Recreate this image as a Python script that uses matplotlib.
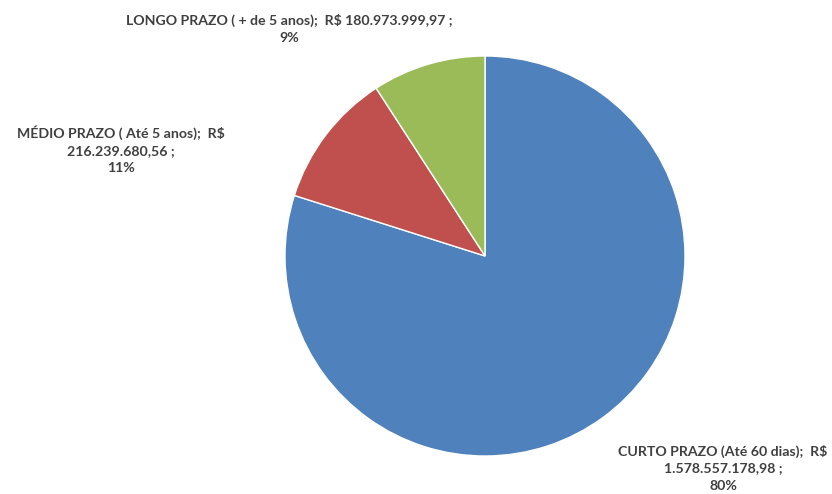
import matplotlib
matplotlib.use("Agg")
import matplotlib.pyplot as plt

categories = ["CURTO PRAZO (Até 60 dias)", "MÉDIO PRAZO ( Até 5 anos)", "LONGO PRAZO ( + de 5 anos)"]
values = [1578557178.98, 216239680.56, 180973999.97]
colors = ["#4F81BD", "#C0504D", "#9BBB59"]

def brl(v):
    s = f"{v:,.2f}"
    return s.replace(",", "X").replace(".", ",").replace("X", ".")

total = sum(values)
pcts = [round(v / total * 100) for v in values]

W, H = 832, 494
fig = plt.figure(figsize=(W / 100, H / 100), dpi=100)
cx, cy, r = 485, 256, 200
ax = fig.add_axes([(cx - r) / W, 1 - (cy + r) / H, 2 * r / W, 2 * r / H])
ax.pie(values, colors=colors, startangle=90, counterclock=False, radius=1,
       wedgeprops=dict(edgecolor="white", linewidth=1))
ax.set_xlim(-1, 1)
ax.set_ylim(-1, 1)
ax.set_aspect("auto")
ax.axis("off")

labels = [
    f"{categories[0]};  R$\n{brl(values[0])} ;\n{pcts[0]}%",
    f"{categories[1]};  R$\n{brl(values[1])} ;\n{pcts[1]}%",
    f"{categories[2]};  R$ {brl(values[2])} ;\n{pcts[2]}%",
]
label_pos = [(723, 468), (121, 150), (289, 29)]
for txt, (x, y) in zip(labels, label_pos):
    fig.text(x / W, 1 - y / H, txt, ha="center", va="center", fontsize=10.2,
             fontweight="bold", color="#404040", family="Lato", linespacing=1.5)

fig.savefig("out.png", dpi=100)
